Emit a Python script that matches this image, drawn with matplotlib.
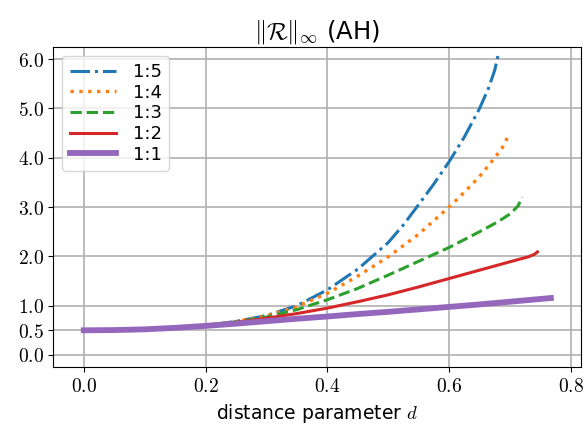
import matplotlib
matplotlib.use("Agg")
import matplotlib.pyplot as plt
from matplotlib.ticker import FormatStrFormatter

plt.rcParams['mathtext.fontset'] = 'cm'
plt.rcParams['font.family'] = 'DejaVu Sans'

# ratio 1:5
d_15 = [0, 0.05, 0.1, 0.15, 0.2, 0.25, 0.3, 0.35, 0.4, 0.45, 0.5, 0.525, 0.55, 0.575, 0.6, 0.625, 0.65, 0.665, 0.675, 0.68]
r_15 = [0.50, 0.505, 0.52, 0.55, 0.6, 0.68, 0.8, 1.0, 1.32, 1.74, 2.28, 2.64, 3.05, 3.47, 3.92, 4.42, 5.0, 5.42, 5.78, 6.06]
# ratio 1:4
d_14 = [0, 0.05, 0.1, 0.15, 0.2, 0.25, 0.3, 0.35, 0.4, 0.45, 0.5, 0.55, 0.6, 0.625, 0.65, 0.675, 0.69, 0.698]
r_14 = [0.50, 0.505, 0.52, 0.55, 0.6, 0.68, 0.79, 0.98, 1.25, 1.6, 1.99, 2.45, 3.0, 3.3, 3.62, 4.0, 4.25, 4.48]
# ratio 1:3
d_13 = [0, 0.05, 0.1, 0.15, 0.2, 0.25, 0.3, 0.35, 0.4, 0.45, 0.5, 0.55, 0.6, 0.65, 0.68, 0.7, 0.713, 0.72]
r_13 = [0.50, 0.505, 0.52, 0.55, 0.6, 0.67, 0.77, 0.92, 1.12, 1.35, 1.62, 1.9, 2.18, 2.5, 2.7, 2.86, 3.02, 3.2]
# ratio 1:2
d_12 = [0, 0.05, 0.1, 0.15, 0.2, 0.25, 0.3, 0.35, 0.4, 0.45, 0.5, 0.55, 0.6, 0.65, 0.7, 0.73, 0.74, 0.745]
r_12 = [0.50, 0.505, 0.52, 0.55, 0.595, 0.66, 0.745, 0.84, 0.95, 1.08, 1.22, 1.38, 1.55, 1.72, 1.89, 1.99, 2.04, 2.09]
# ratio 1:1
d_11 = [0, 0.05, 0.1, 0.15, 0.2, 0.25, 0.3, 0.35, 0.4, 0.45, 0.5, 0.55, 0.6, 0.65, 0.7, 0.767]
r_11 = [0.50, 0.505, 0.52, 0.55, 0.59, 0.635, 0.685, 0.735, 0.78, 0.83, 0.875, 0.925, 0.975, 1.025, 1.08, 1.155]

yticks = [0.0, 0.5, 1.0, 2.0, 3.0, 4.0, 5.0, 6.0]
xticks = [0.0, 0.2, 0.4, 0.6, 0.8]

fig = plt.figure(figsize=(5.87, 4.28), dpi=100)
ax = fig.add_axes([0.0908, 0.1418, 0.8995, 0.7491])

ax.plot(d_15, r_15, '-.', color='tab:blue', lw=2.2, label='1:5')
ax.plot(d_14, r_14, ':', color='tab:orange', lw=2.4, label='1:4')
ax.plot(d_13, r_13, '--', color='tab:green', lw=2.2, label='1:3')
ax.plot(d_12, r_12, '-', color='tab:red', lw=2.2, label='1:2')
ax.plot(d_11, r_11, '-', color='tab:purple', lw=4.2, label='1:1')

ax.set_xlim(-0.05, 0.817)
ax.set_ylim(-0.25, 6.25)
ax.set_xticks(xticks)
ax.set_yticks(yticks)
ax.xaxis.set_major_formatter(FormatStrFormatter('$%.1f$'))
ax.yaxis.set_major_formatter(FormatStrFormatter('$%.1f$'))
ax.tick_params(labelsize=14)
ax.grid(True, color='#b0b0b0', lw=1.2)

ax.set_title(r'$\|\mathcal{R}\|_\infty$ (AH)', fontsize=17.5)
ax.set_xlabel(r'distance parameter $d$', fontsize=13.5)
ax.legend(loc='upper left', fontsize=13, handlelength=2.6, handletextpad=0.9,
          labelspacing=0.15)

fig.savefig('out.png', dpi=100)
